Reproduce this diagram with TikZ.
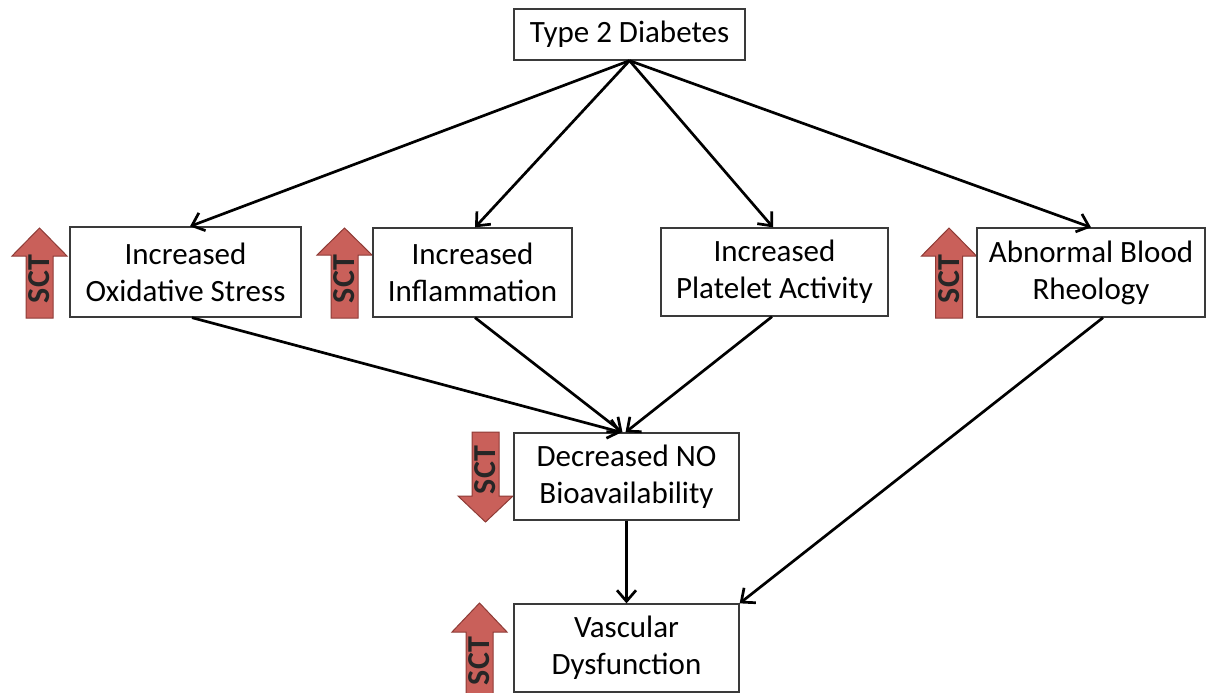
\documentclass[tikz,border=0pt]{standalone}
\usepackage{fontspec}
\setmainfont{Carlito}
\usetikzlibrary{arrows.meta}
\definecolor{sctfill}{HTML}{C9605A}
\definecolor{sctline}{HTML}{8E3B36}
\definecolor{boxline}{HTML}{3A3A3A}
\tikzset{
  box/.style={draw=boxline, line width=1.3pt, fill=white, align=center, inner sep=0pt,
    font=\fontsize{31}{37}\selectfont},
  conn/.style={line width=2.7pt, -{Straight Barb[length=11pt,width=19pt,line width=2.7pt]}},
  sctshape/.style={fill=sctfill, draw=sctline, line width=1pt, line join=miter},
  scttext/.style={rotate=90, inner sep=0pt, font=\fontsize{32}{32}\selectfont\bfseries, text=black!85}
}
% up arrow: #1 name, #2 cx, #3 tip y, #4 head base y, #5 bottom y, #6 text centre y
\newcommand\mysctup[6]{%
  \draw[sctshape] (#2,#3) -- (#2+27.5,#4) -- (#2+13.5,#4) -- (#2+13.5,#5) -- (#2-13.5,#5)
     -- (#2-13.5,#4) -- (#2-27.5,#4) -- cycle;
  \node[scttext] (#1) at (#2,#6) {SCT};}
% down arrow: #1 name, #2 cx, #3 top y, #4 head base y, #5 tip y, #6 text centre y
\newcommand\mysctdown[6]{%
  \draw[sctshape] (#2,#5) -- (#2+27.5,#4) -- (#2+13.5,#4) -- (#2+13.5,#3) -- (#2-13.5,#3)
     -- (#2-13.5,#4) -- (#2-27.5,#4) -- cycle;
  \node[scttext] (#1) at (#2,#6) {SCT};}
\begin{document}
\begin{tikzpicture}[x=1pt,y=-1pt]
\useasboundingbox (0,0) rectangle (1208,693);

% SCT arrows
\mysctup{s1}{39.5}{228}{256}{318}{279}
\mysctup{s2}{344.5}{228}{255}{318}{279}
\mysctup{s3}{949}{228}{256}{318}{279}
\mysctdown{s4}{485.5}{432}{496}{522}{470}
\mysctup{s5}{479.5}{603}{632}{700}{661}

% boxes
\node[box, minimum width=231pt, minimum height=51pt] (t2d) at (629.5,34.5) {Type 2 Diabetes};
\node[box, minimum width=231pt, minimum height=90pt] (ox) at (185.5,272) {Increased\\Oxidative Stress};
\node[box, minimum width=199pt, minimum height=89pt] (inf) at (472.5,272.5) {Increased\\Inflammation};
\node[box, minimum width=227pt, minimum height=88pt] (plt) at (774.5,272) {Increased\\Platelet Activity};
\node[box, minimum width=228pt, minimum height=89pt] (rh) at (1091,272.5) {Abnormal Blood\\Rheology};
\node[box, minimum width=225pt, minimum height=87pt] (no) at (626.5,476.5) {Decreased NO\\Bioavailability};
\node[box, minimum width=225pt, minimum height=88pt] (vd) at (626.5,648) {Vascular\\Dysfunction};

% connectors
\draw[conn] (t2d.south) -- ([xshift=4.5pt]ox.north);
\draw[conn] (t2d.south) -- ([xshift=2.5pt]inf.north);
\draw[conn] (t2d.south) -- ([xshift=-1.5pt]plt.north);
\draw[conn] (t2d.south) -- (rh.north);
\draw[conn] ([xshift=6.5pt]ox.south) -- ([xshift=-5pt]no.north);
\draw[conn] ([xshift=2.5pt]inf.south) -- ([xshift=-4pt]no.north);
\draw[conn] ([xshift=-2.5pt]plt.south) -- ([xshift=-1pt]no.north);
\draw[conn] ([xshift=12pt]rh.south) -- (vd.north east);
\draw[conn] (no.south) -- (vd.north);
\end{tikzpicture}
\end{document}
